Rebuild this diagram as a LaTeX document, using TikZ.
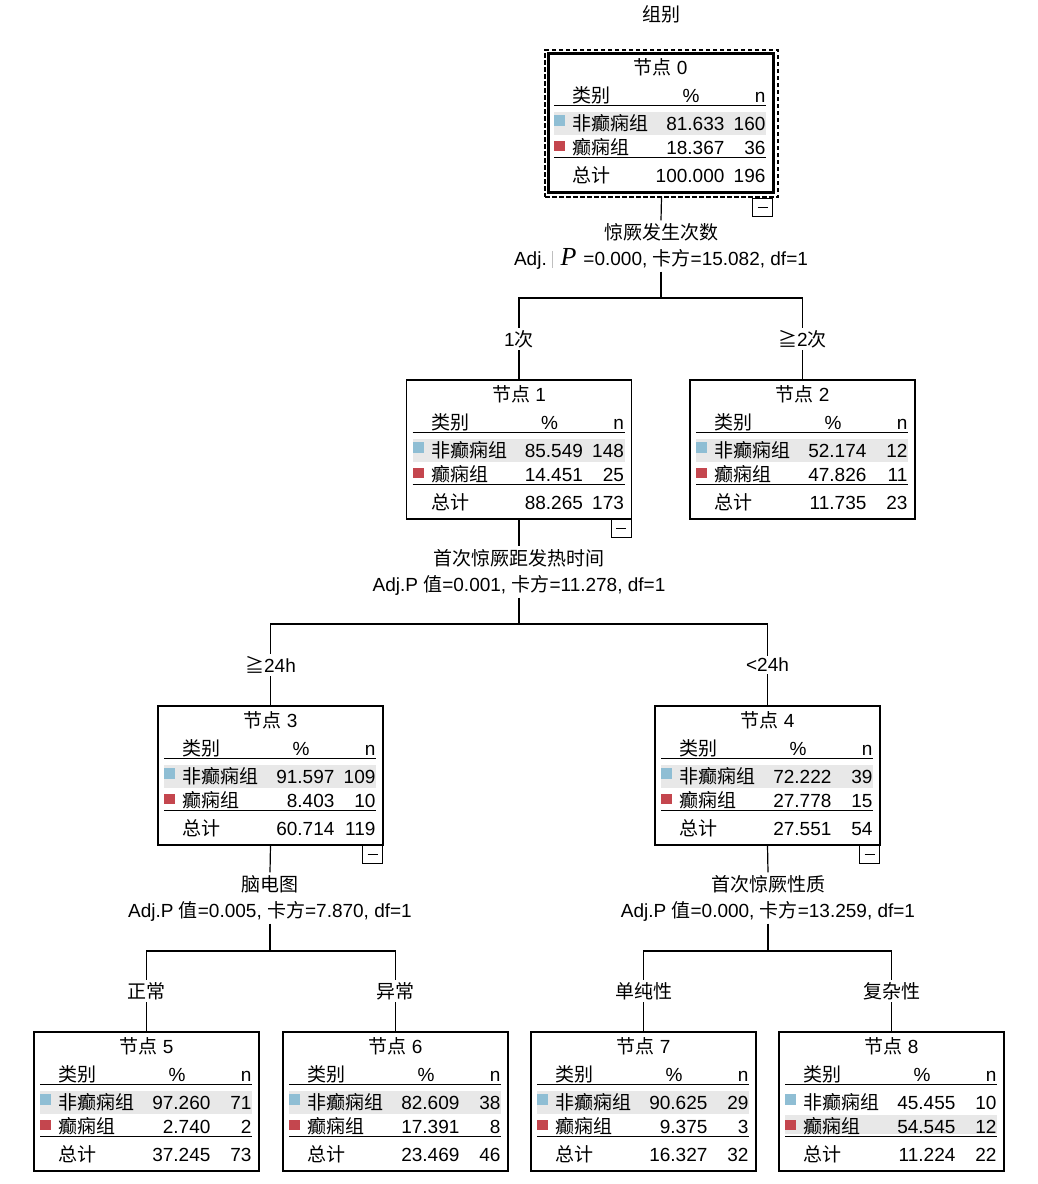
\documentclass[tikz,border=0pt]{standalone}
\usepackage{fontspec}
\setmainfont{Liberation Sans}
\newfontfamily\zhfont{Noto Sans CJK SC}
\newfontfamily\pfont{Liberation Serif}
\newcommand{\zh}[1]{{\zhfont #1}}
\usepackage{tikz}
\usetikzlibrary{positioning}
\usepackage{xcolor}
\definecolor{nonepi}{RGB}{143,190,212}
\definecolor{epi}{RGB}{196,70,78}
\definecolor{rowgray}{RGB}{232,232,232}

\tikzset{
  treebox/.style={draw, line width=1.2pt, minimum width=225pt, minimum height=139pt, inner sep=0pt, outer sep=0pt},
  cell/.style={inner sep=0pt},
  rule/.style={line width=1.3pt},
  splitlabel/.style={align=center, inner sep=2pt, font=\fontsize{19}{26}\selectfont},
  branchlabel/.style={inner sep=2pt},
  collapse/.style={draw, fill=white, line width=1pt, minimum width=20pt, minimum height=18pt, inner sep=0pt,
    path picture={\draw [line width=1.2pt] ([xshift=5pt]path picture bounding box.west) -- ([xshift=-5pt]path picture bounding box.east);}}
}

\newcommand{\nodetable}[9]{%
  \begin{scope}[shift={(#1.north west)}]
    \ifnum#9=1
      \fill [rowgray] (6, 59) rectangle (218, 82);
    \else
      \fill [rowgray] (6, 83) rectangle (218, 102);
    \fi
    \node [cell, anchor=base] (#1t) at (112.5, 21) {\zh{节点} #2};
    \node [cell, anchor=base west] (#1hc) at (24, 49) {\zh{类别}};
    \node [cell, anchor=base] (#1hp) at (143, 49) {\%};
    \node [cell, anchor=base east] (#1hn) at (218, 49) {n};
    \draw [rule] (6, 52.5) -- (218, 52.5);
    \fill [nonepi] (6, 62) rectangle (17, 73);
    \node [cell, anchor=base west] (#1ac) at (24, 77) {\zh{非癫痫组}};
    \node [cell, anchor=base east] (#1ap) at (177, 77) {#3};
    \node [cell, anchor=base east] (#1an) at (218, 77) {#4};
    \fill [epi] (6, 88) rectangle (17, 98);
    \node [cell, anchor=base west] (#1bc) at (24, 101) {\zh{癫痫组}};
    \node [cell, anchor=base east] (#1bp) at (177, 101) {#5};
    \node [cell, anchor=base east] (#1bn) at (218, 101) {#6};
    \draw [rule] (6, 104.5) -- (218, 104.5);
    \node [cell, anchor=base west] (#1sc) at (24, 129) {\zh{总计}};
    \node [cell, anchor=base east] (#1sp) at (177, 129) {#7};
    \node [cell, anchor=base east] (#1sn) at (218, 129) {#8};
  \end{scope}}

\begin{document}
\begin{tikzpicture}[x=1pt, y=-1pt, font=\fontsize{19}{22}\selectfont, line width=1.2pt]
  \useasboundingbox (0,0) rectangle (1037,1184);
  \node [cell] (top) at (661, 14) {\zh{组别}};

  \node [treebox, line width=3pt] (n0) at (660.5, 122.5) {};
  \node [treebox, line width=1.1pt, dash pattern=on 4.5pt off 2.5pt, minimum width=233pt, minimum height=147pt] (n0f) at (661.5, 123.5) {};
  \nodetable{n0}{0}{81.633}{160}{18.367}{36}{100.000}{196}{1}
  \node [collapse, anchor=north east] (n0c) at ([yshift=-6pt]n0.south east) {};

  \node [treebox] (n1) at (519, 449.5) {};
  \nodetable{n1}{1}{85.549}{148}{14.451}{25}{88.265}{173}{1}
  \node [collapse, anchor=north east] (n1c) at (n1.south east) {};

  \node [treebox] (n2) at (802.5, 449.5) {};
  \nodetable{n2}{2}{52.174}{12}{47.826}{11}{11.735}{23}{1}

  \node [treebox] (n3) at (270.5, 775.5) {};
  \nodetable{n3}{3}{91.597}{109}{8.403}{10}{60.714}{119}{1}
  \node [collapse, anchor=north east] (n3c) at (n3.south east) {};

  \node [treebox] (n4) at (767.5, 775.5) {};
  \nodetable{n4}{4}{72.222}{39}{27.778}{15}{27.551}{54}{1}
  \node [collapse, anchor=north east] (n4c) at (n4.south east) {};

  \node [treebox] (n5) at (146.5, 1101.5) {};
  \nodetable{n5}{5}{97.260}{71}{2.740}{2}{37.245}{73}{1}
  \node [treebox] (n6) at (395.5, 1101.5) {};
  \nodetable{n6}{6}{82.609}{38}{17.391}{8}{23.469}{46}{1}
  \node [treebox] (n7) at (643.5, 1101.5) {};
  \nodetable{n7}{7}{90.625}{29}{9.375}{3}{16.327}{32}{1}
  \node [treebox] (n8) at (891.5, 1101.5) {};
  \nodetable{n8}{8}{45.455}{10}{54.545}{12}{11.224}{22}{2}

  \node [splitlabel] (s0) at (661, 246) {\zh{惊厥发生次数}\\Adj.\hspace{5pt}\textcolor{black!25}{\rule[-3pt]{0.8pt}{17pt}}\hspace{8pt}{\pfont\itshape\fontsize{26}{26}\selectfont P}\hspace{7pt}=0.000, \zh{卡方}=15.082, df=1};
  \node [splitlabel] (s1) at (519, 572) {\zh{首次惊厥距发热时间}\\Adj.P \zh{值}=0.001, \zh{卡方}=11.278, df=1};
  \node [splitlabel] (s3) at (270, 898) {\zh{脑电图}\\Adj.P \zh{值}=0.005, \zh{卡方}=7.870, df=1};
  \node [splitlabel] (s4) at (768, 898) {\zh{首次惊厥性质}\\Adj.P \zh{值}=0.000, \zh{卡方}=13.259, df=1};

  \coordinate (j0) at (661, 298);
  \coordinate (j1) at (519, 624);
  \coordinate (j3) at (270, 951);
  \coordinate (j4) at (768, 951);

  \node [branchlabel] (b1) at (519, 339) {1\zh{次}};
  \node [branchlabel] (b2) at (802.5, 339) {\zh{≧}2\zh{次}};
  \node [branchlabel] (b3) at (270.5, 665) {\zh{≧}24h};
  \node [branchlabel] (b4) at (767.5, 665) {<24h};
  \node [branchlabel] (b5) at (146.5, 991) {\zh{正常}};
  \node [branchlabel] (b6) at (395.5, 991) {\zh{异常}};
  \node [branchlabel] (b7) at (643.5, 991) {\zh{单纯性}};
  \node [branchlabel] (b8) at (891.5, 991) {\zh{复杂性}};

  \draw (n0f.south) -- (s0.north);
  \draw (s0.south) -- (j0) -| (b1.north);
  \draw (j0) -| (b2.north);
  \draw (b1.south) -- (n1.north);
  \draw (b2.south) -- (n2.north);

  \draw (n1.south) -- (s1.north);
  \draw (s1.south) -- (j1) -| (b3.north);
  \draw (j1) -| (b4.north);
  \draw (b3.south) -- (n3.north);
  \draw (b4.south) -- (n4.north);

  \draw (n3.south) -- (s3.north);
  \draw (s3.south) -- (j3) -| (b5.north);
  \draw (j3) -| (b6.north);
  \draw (b5.south) -- (n5.north);
  \draw (b6.south) -- (n6.north);

  \draw (n4.south) -- (s4.north);
  \draw (s4.south) -- (j4) -| (b7.north);
  \draw (j4) -| (b8.north);
  \draw (b7.south) -- (n7.north);
  \draw (b8.south) -- (n8.north);
\end{tikzpicture}
\end{document}
